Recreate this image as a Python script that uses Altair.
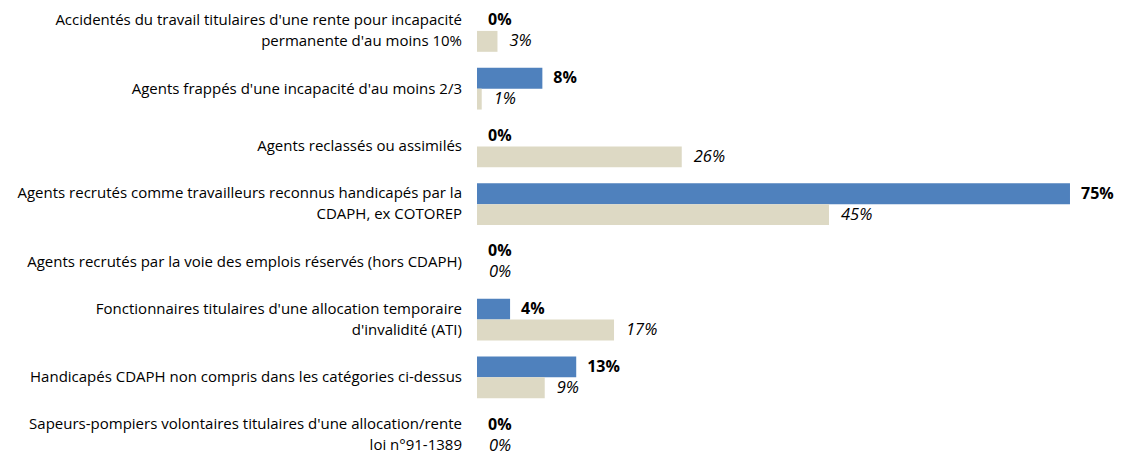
import altair as alt
import pandas as pd

categories = [
    "Accidentés du travail titulaires d'une rente pour incapacité\npermanente d'au moins 10%",
    "Agents frappés d'une incapacité d'au moins 2/3",
    "Agents reclassés ou assimilés",
    "Agents recrutés comme travailleurs reconnus handicapés par la\nCDAPH, ex COTOREP",
    "Agents recrutés par la voie des emplois réservés (hors CDAPH)",
    "Fonctionnaires titulaires d'une allocation temporaire\nd'invalidité (ATI)",
    "Handicapés CDAPH non compris dans les catégories ci-dessus",
    "Sapeurs-pompiers volontaires titulaires d'une allocation/rente\nloi n°91-1389",
]
series_names = ["Série 1", "Série 2"]
series1 = [0.0, 8.3, 0.0, 75.3, 0.0, 4.2, 12.6, 0.0]
series2 = [2.6, 0.6, 26.0, 44.7, 0.0, 17.4, 8.6, 0.0]

rows = []
for c, a, b in zip(categories, series1, series2):
    rows.append({"cat": c, "series": series_names[0], "value": a})
    rows.append({"cat": c, "series": series_names[1], "value": b})
df = pd.DataFrame(rows)
cat_df = pd.DataFrame({"cat": categories})
cat_df["multi"] = cat_df["cat"].str.contains("\n")

FONT = "Open Sans"

y_enc = alt.Y("cat:N", sort=categories, axis=None,
              scale=alt.Scale(paddingInner=0.2759, paddingOuter=0))
yoff = alt.YOffset("series:N", sort=series_names,
                   scale=alt.Scale(paddingInner=0, paddingOuter=0))
x_enc = alt.X("value:Q", axis=None, scale=alt.Scale(domain=[0, 80], nice=False, zero=True))

base = alt.Chart(df).encode(y=y_enc, yOffset=yoff, x=x_enc)

bars = base.mark_bar(cornerRadius=0).encode(
    color=alt.Color("series:N", sort=series_names, legend=None,
                    scale=alt.Scale(domain=series_names, range=["#4F81BD", "#DDD9C4"]))
)

lab = base.transform_calculate(label="format(datum.value, '.0f') + '%'")

labels1 = lab.transform_filter(alt.datum.series == series_names[0]).mark_text(
    align="left", baseline="middle", dx=11, font=FONT, fontSize=16, fontWeight="bold", color="#000000"
).encode(text="label:N")

labels2 = lab.transform_filter(alt.datum.series == series_names[1]).mark_text(
    align="left", baseline="middle", dx=12, font=FONT, fontSize=16.5, fontStyle="italic", color="#000000"
).encode(text="label:N")

cat_single = alt.Chart(cat_df).transform_filter("!datum.multi").mark_text(
    align="right", baseline="middle", font=FONT, fontSize=15, color="#000000"
).encode(y=y_enc, x=alt.value(-15), text="cat:N")

cat_multi = alt.Chart(cat_df).transform_filter("datum.multi").mark_text(
    align="right", baseline="middle", font=FONT, fontSize=15, lineBreak="\n",
    lineHeight=21, dy=-11, color="#000000"
).encode(y=y_enc, x=alt.value(-15), text="cat:N")

chart = alt.layer(bars, labels1, labels2, cat_single, cat_multi).properties(
    width=630, height=446,
    padding={"left": 469, "top": 2, "right": 8, "bottom": 0},
    autosize=alt.AutoSizeParams(type="none"),
).configure_view(strokeWidth=0)

chart.save("out.html", embed_options={"renderer": "svg", "actions": False})
